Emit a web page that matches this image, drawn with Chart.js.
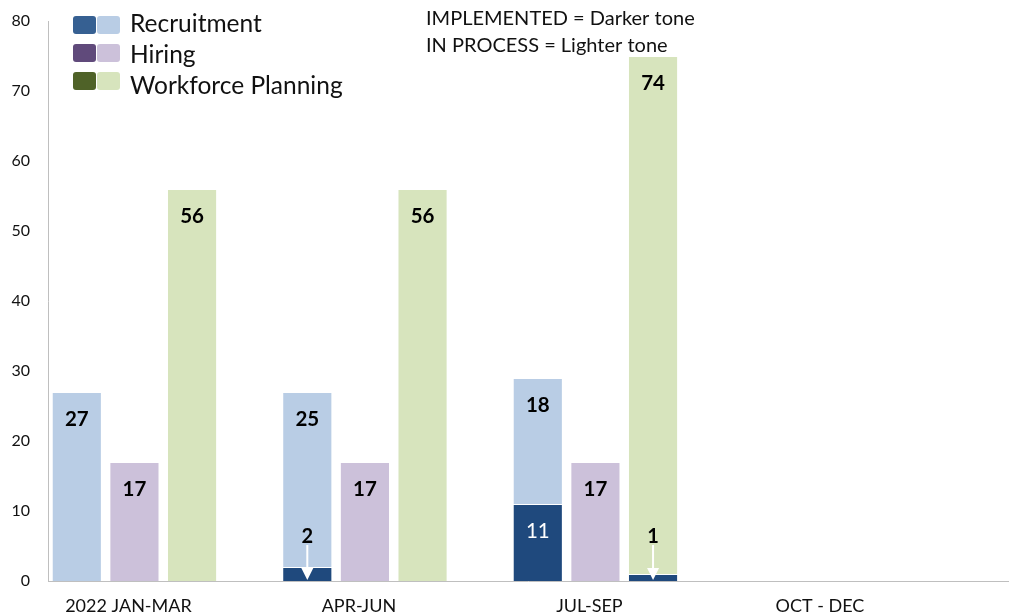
<!DOCTYPE html>
<html>
<head>
<meta charset="utf-8">
<script src="https://cdn.jsdelivr.net/npm/chart.js@4.4.1/dist/chart.umd.min.js"></script>
<style>
  html, body { margin: 0; padding: 0; background: #fff; }
</style>
</head>
<body>
<canvas id="chart" width="1010" height="614"></canvas>
<script>
const quarters = ['2022 JAN-MAR', 'APR-JUN', 'JUL-SEP', 'OCT - DEC'];
const recruitmentImplemented = [0, 2, 11, null];
const recruitmentInProcess = [27, 25, 18, null];
const hiringImplemented = [0, 0, 0, null];
const hiringInProcess = [17, 17, 17, null];
const planningImplemented = [0, 0, 1, null];
const planningInProcess = [56, 56, 74, null];
const yTicks = [0, 10, 20, 30, 40, 50, 60, 70, 80];
const seriesNames = ['Recruitment', 'Hiring', 'Workforce Planning'];
const noteLines = ['IMPLEMENTED = Darker tone', 'IN PROCESS = Lighter tone'];

const DARK_BAR = '#1F497D';
const legendDark = ['#366092', '#604A7B', '#4F6228'];
const legendLight = ['#B9CDE5', '#CCC1DA', '#D7E4BD'];
const FONT = 'Lato, "Noto Sans", sans-serif';

// quarters sit on a numeric x axis so the groups can be placed like the original
const toPoints = arr => arr.map((y, x) => ({ x, y }));

function bars(values, stack, color, implemented) {
    return {
        data: toPoints(values),
        stack,
        implemented,
        backgroundColor: color,
        borderColor: 'rgba(255,255,255,0.85)',
        borderWidth: 1,
        barPercentage: 0.87,
        categoryPercentage: 0.75,
    };
}

const valueLabels = {
    id: 'valueLabels',
    afterDatasetsDraw(chart) {
        const ctx = chart.ctx;
        const base = chart.scales.y.getPixelForValue(0);
        chart.data.datasets.forEach((ds, di) => {
            chart.getDatasetMeta(di).data.forEach((bar, i) => {
                const v = ds.data[i].y;
                if (!v) return;
                ctx.save();
                ctx.textAlign = 'center';
                ctx.textBaseline = 'middle';
                if (bar.base - bar.y < 20) {
                    // tiny segment: label above, white arrow pointing down into it
                    ctx.font = 'bold 20px ' + FONT;
                    ctx.fillStyle = '#000';
                    ctx.fillText(v, bar.x, base - 44);
                    ctx.strokeStyle = '#fff';
                    ctx.lineWidth = 2;
                    ctx.beginPath();
                    ctx.moveTo(bar.x, base - 36);
                    ctx.lineTo(bar.x, base - 12);
                    ctx.stroke();
                    ctx.fillStyle = '#fff';
                    ctx.beginPath();
                    ctx.moveTo(bar.x - 6, base - 13);
                    ctx.lineTo(bar.x + 6, base - 13);
                    ctx.lineTo(bar.x, base - 1);
                    ctx.closePath();
                    ctx.fill();
                } else {
                    ctx.font = (ds.implemented ? '' : 'bold ') + '20.5px ' + FONT;
                    ctx.fillStyle = ds.implemented ? '#fff' : '#000';
                    ctx.fillText(v, bar.x, bar.y + 27);
                }
                ctx.restore();
            });
        });
    }
};

const legendAndNote = {
    id: 'legendAndNote',
    afterDraw(chart) {
        const ctx = chart.ctx;
        ctx.save();
        ctx.textBaseline = 'middle';
        seriesNames.forEach((name, i) => {
            const cy = 25 + i * 28;
            ctx.fillStyle = legendDark[i];
            ctx.beginPath();
            ctx.roundRect(73, cy - 9, 23, 18, 3);
            ctx.fill();
            ctx.fillStyle = legendLight[i];
            ctx.beginPath();
            ctx.roundRect(97, cy - 9, 23, 18, 3);
            ctx.fill();
            ctx.fillStyle = '#111';
            ctx.font = '24.5px ' + FONT;
            ctx.fillText(name, 130, 24 + i * 31);
        });
        ctx.font = '20px ' + FONT;
        noteLines.forEach((line, i) => ctx.fillText(line, 426, 19 + i * 27));
        ctx.restore();
    }
};

new Chart(document.getElementById('chart'), {
    type: 'bar',
    data: {
        datasets: [
            bars(recruitmentImplemented, 'recruitment', DARK_BAR, true),
            bars(recruitmentInProcess, 'recruitment', legendLight[0], false),
            bars(hiringImplemented, 'hiring', DARK_BAR, true),
            bars(hiringInProcess, 'hiring', legendLight[1], false),
            bars(planningImplemented, 'planning', DARK_BAR, true),
            bars(planningInProcess, 'planning', legendLight[2], false),
        ]
    },
    options: {
        responsive: false,
        animation: false,
        devicePixelRatio: 1,
        layout: { padding: { top: 21, right: 2, left: 0, bottom: 0 } },
        plugins: {
            legend: { display: false },
            tooltip: { enabled: false },
        },
        scales: {
            x: {
                type: 'linear',
                stacked: true,
                offset: false,
                min: -0.375,
                max: 3.79,
                grid: { display: false },
                border: { color: '#BFBFBF' },
                afterBuildTicks: s => { s.ticks = quarters.map((q, i) => ({ value: i })); },
                afterFit: s => { s.height = 33; },
                ticks: {
                    callback: v => quarters[v],
                    color: '#111',
                    font: { family: FONT, size: 18 },
                    padding: 6,
                    labelOffset: -6,
                    maxRotation: 0,
                    autoSkip: false,
                }
            },
            y: {
                stacked: true,
                min: yTicks[0],
                max: yTicks[yTicks.length - 1],
                grid: { display: false },
                border: { color: '#BFBFBF' },
                afterFit: s => { s.width = 48; },
                ticks: {
                    stepSize: yTicks[1] - yTicks[0],
                    color: '#111',
                    font: { family: FONT, size: 16 },
                    padding: 10,
                }
            }
        }
    },
    plugins: [valueLabels, legendAndNote]
});
</script>
</body>
</html>
